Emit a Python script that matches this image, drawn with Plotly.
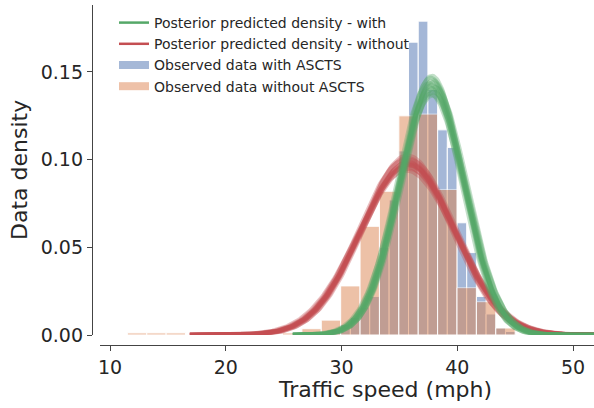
import numpy as np
import plotly.graph_objects as go

# ---------------- data ----------------
# Observed histogram (density) of traffic speed without ASCTS
without_edges = [11.5, 13.175, 14.85, 16.525, 18.2, 19.875, 21.55, 23.225, 24.9, 26.575,
                 28.25, 29.925, 31.6, 33.275, 34.95, 36.625, 38.3, 39.975, 41.65, 43.325, 45.0]
without_density = [0.0012, 0.0012, 0.0012, 0.0, 0.0, 0.0, 0.0, 0.0, 0.0012, 0.0036,
                   0.0085, 0.028, 0.062, 0.082, 0.125, 0.126, 0.083, 0.027, 0.019, 0.004]

# Observed histogram (density) of traffic speed with ASCTS
with_edges = [28.25, 29.0875, 29.925, 30.7625, 31.6, 32.4375, 33.275, 34.1125, 34.95, 35.7875,
              36.625, 37.4625, 38.3, 39.1375, 39.975, 40.8125, 41.65, 42.4875, 43.325, 44.1625, 45.0]
with_density = [0.0, 0.003, 0.006, 0.010, 0.016, 0.022, 0.050, 0.077, 0.105, 0.167,
                0.179, 0.140, 0.117, 0.107, 0.064, 0.047, 0.022, 0.012, 0.004, 0.002]

# Posterior samples of the predicted normal density (mean, sd)
with_mu = [37.55, 37.65, 37.70, 37.75, 37.80, 37.85, 37.90, 37.95, 38.05, 37.80, 37.72, 37.88]
with_sigma = [2.78, 2.90, 2.72, 2.85, 2.80, 2.92, 2.75, 2.88, 2.82, 2.70, 2.83, 2.77]
without_mu = [35.50, 35.60, 35.65, 35.70, 35.75, 35.80, 35.90, 35.60, 35.85, 35.70, 35.68, 35.78]
without_sigma = [4.00, 4.15, 3.95, 4.10, 4.05, 4.20, 4.00, 4.25, 4.10, 3.90, 4.07, 4.12]

x_ticks = [10, 20, 30, 40, 50]
y_ticks = [0.00, 0.05, 0.10, 0.15]

# ---------------- styling ----------------
GREEN = "#55A868"
RED = "#C44E52"
BLUE = "#4C72B0"
ORANGE = "#DD8452"
TXT = "#262626"
FONT = "DejaVu Sans"

W, H = 594, 408
ML, MR, MT, MB = 92, 0, 5, 63
PW, PH = W - ML - MR, H - MT - MB


def pdf(x, mu, s):
    return np.exp(-0.5 * ((x - mu) / s) ** 2) / (s * np.sqrt(2 * np.pi))


fig = go.Figure()

# legend-only entries (matplotlib-like legend handles)
fig.add_trace(go.Scatter(x=[None], y=[None], mode="lines", name="Posterior predicted density - with",
                         line=dict(color=GREEN, width=2.5)))
fig.add_trace(go.Scatter(x=[None], y=[None], mode="lines", name="Posterior predicted density - without",
                         line=dict(color=RED, width=2.5)))
fig.add_trace(go.Scatter(x=[None], y=[None], mode="lines", name="Observed data with ASCTS",
                         line=dict(color="rgba(76,114,176,0.5)", width=8)))
fig.add_trace(go.Scatter(x=[None], y=[None], mode="lines", name="Observed data without ASCTS",
                         line=dict(color="rgba(221,132,82,0.5)", width=8)))


def add_hist(edges, dens, color):
    e = np.array(edges)
    d = np.array(dens)
    c = (e[:-1] + e[1:]) / 2
    w = np.diff(e)
    m = d > 0
    fig.add_trace(go.Bar(x=c[m], y=d[m], width=w[m], marker=dict(color=color, line=dict(color="white", width=1)),
                         opacity=0.5, showlegend=False, hoverinfo="skip"))


add_hist(with_edges, with_density, BLUE)
add_hist(without_edges, without_density, ORANGE)

xg_red = np.linspace(16.9, 52.5, 300)
xg_green = np.linspace(25.8, 52.5, 300)
for mu, s in zip(without_mu, without_sigma):
    fig.add_trace(go.Scatter(x=xg_red, y=pdf(xg_red, mu, s), mode="lines",
                             line=dict(color=RED, width=4.5), opacity=0.35, showlegend=False, hoverinfo="skip"))
for mu, s in zip(with_mu, with_sigma):
    fig.add_trace(go.Scatter(x=xg_green, y=pdf(xg_green, mu, s), mode="lines",
                             line=dict(color=GREEN, width=4.5), opacity=0.35, showlegend=False, hoverinfo="skip"))

axis_common = dict(showgrid=False, zeroline=False, showline=True, linecolor="#444444", linewidth=1.3,
                   ticks="outside", ticklen=5, tickwidth=1.3, tickcolor="#444444",
                   tickfont=dict(family=FONT, size=19, color=TXT))

fig.update_layout(
    width=W, height=H,
    margin=dict(l=ML, r=MR, t=MT, b=MB, pad=0),
    paper_bgcolor="white", plot_bgcolor="white",
    barmode="overlay",
    font=dict(family=FONT, color=TXT),
    xaxis=dict(range=[9.136, 51.81], domain=[8 / PW, 1], anchor="free", position=0,
               tickvals=x_ticks, ticktext=[str(v) for v in x_ticks], **axis_common),
    yaxis=dict(range=[0, 0.1882], domain=[10 / PH, 1], anchor="free", position=0,
               tickvals=y_ticks, ticktext=[f"{v:.2f}" for v in y_ticks], **axis_common),
    legend=dict(x=(114 - ML) / PW, y=(H - MB - 7) / PH, xanchor="left", yanchor="top",
                bgcolor="rgba(0,0,0,0)", font=dict(family=FONT, size=14, color=TXT),
                itemwidth=30, traceorder="normal"),
    showlegend=True,
    annotations=[
        dict(text="Traffic speed (mph)", xref="paper", yref="paper",
             x=(385 - ML) / PW, y=(H - MB - 389) / PH, xanchor="center", yanchor="middle",
             showarrow=False, font=dict(family=FONT, size=22, color=TXT)),
        dict(text="Data density", xref="paper", yref="paper", textangle=-90,
             x=(19 - ML) / PW, y=(H - MB - 170) / PH, xanchor="center", yanchor="middle",
             showarrow=False, font=dict(family=FONT, size=22, color=TXT)),
    ],
)

fig.write_html("out.html", config={"displayModeBar": False},
               post_script="document.body.style.margin='0';")
